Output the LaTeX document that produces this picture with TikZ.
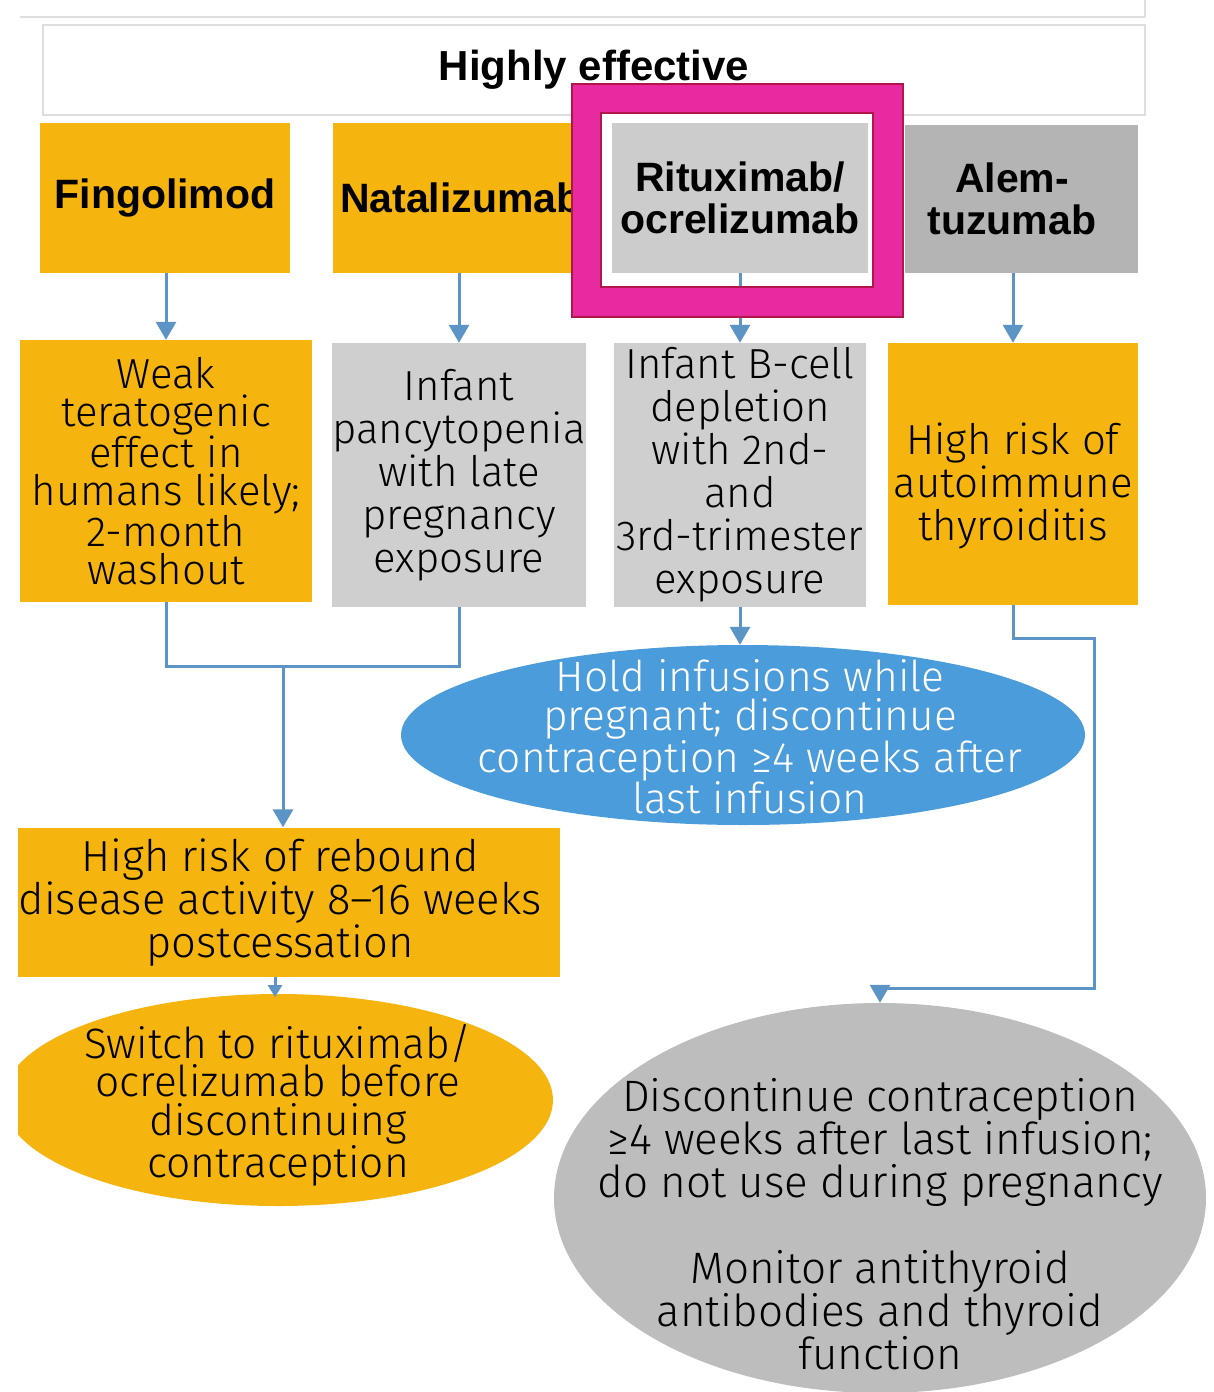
\documentclass[tikz,border=0pt]{standalone}
\usepackage{fontspec}
\setmainfont{Fira Sans Light}
\newfontfamily\headfont{Liberation Sans}
\usetikzlibrary{arrows.meta,shapes.geometric}

\definecolor{boxorange}{RGB}{246,180,14}
\definecolor{boxgray}{RGB}{207,207,207}
\definecolor{ritgray}{RGB}{204,204,204}
\definecolor{alemgray}{RGB}{180,180,180}
\definecolor{holdblue}{RGB}{74,156,218}
\definecolor{discgray}{RGB}{189,189,189}
\definecolor{linkblue}{RGB}{92,148,198}
\definecolor{framegray}{RGB}{222,222,222}
\definecolor{hilite}{RGB}{231,42,160}
\definecolor{hiliteedge}{RGB}{176,22,74}

\begin{document}
\begin{tikzpicture}[x=1pt,y=-1pt,
  every node/.style={inner sep=0pt, align=center},
  body/.style={font=\fontsize{42}{43}\selectfont},
  tightbody/.style={font=\fontsize{42}{38}\selectfont},
  ovalbody/.style={font=\fontsize{42.5}{38.5}\selectfont},
  bigbody/.style={font=\fontsize{44}{43}\selectfont},
  title/.style={font=\headfont\bfseries\fontsize{41}{42}\selectfont},
  obox/.style={rectangle, fill=boxorange},
  gbox/.style={rectangle, fill=boxgray},
  link/.style={draw=linkblue, line width=3pt},
  arr/.style={link, -{Triangle[length=18pt,width=20pt]}},
  smallarr/.style={link, -{Triangle[length=12pt,width=14pt]}},
]
\useasboundingbox[fill=white] (0,0) rectangle (1213,1392);

% frame lines above the header
\draw[framegray, line width=2pt] (20,17) -- (1145,17);
\draw[framegray, line width=1.5pt] (1145,0) -- (1145,17);

% header
\node[draw=framegray, line width=1.5pt, minimum width=1102, minimum height=90,
      font=\headfont\bfseries\fontsize{42}{42}\selectfont] (head) at (594,70) {Highly effective};

% first row: drugs
\node[obox, title, minimum width=250, minimum height=150] (fingo) at (165,198) {Fingolimod};
\node[obox, title, minimum width=266, minimum height=150, text width=252, align=left] (natal) at (466,198) {Natalizumab};
\fill[white] (601,113) rectangle (873,287);
\node[gbox, fill=ritgray, title, minimum width=256, minimum height=150] (ritux) at (740,198) {Rituximab/\\ocrelizumab};
\node[gbox, fill=alemgray, minimum width=233, minimum height=148] (alem) at (1021,199) {};
\node[title] (alemtxt) at (1012,199) {Alem-\\tuzumab};

% second row: risks
\node[obox, tightbody, minimum width=292, minimum height=262] (weak) at (166,471)
  {Weak\\teratogenic\\effect in\\humans likely;\\2-month\\washout};
\node[gbox, body, minimum width=252, minimum height=264] (pan) at (459,475)
  {Infant\\pancytopenia\\with late\\pregnancy\\exposure};
\node[gbox, body, minimum width=252, minimum height=264] (bcell) at (740,475)
  {Infant B-cell\\depletion\\with 2nd-\\and\\3rd-trimester\\exposure};
\node[obox, minimum width=250, minimum height=262] (thy) at (1013,474) {};
\node[body] (thytxt) at (1013,486) {High risk of\\autoimmune\\thyroiditis};

% recommendations
\node[ellipse, fill=holdblue, minimum width=684, minimum height=180] (hold) at (743,735) {};
\node[ovalbody, text=white] (holdtxt) at (750,737)
  {Hold infusions while\\pregnant; discontinue\\contraception ≥4 weeks after\\last infusion};

\node[obox, minimum width=542, minimum height=149] (rebound) at (289,902) {};
\node[font=\fontsize{43.5}{43}\selectfont] (reboundtxt) at (280,903)
  {High risk of rebound\\disease activity 8–16 weeks\\postcessation};

\begin{scope}
  \clip (18,0) rectangle (1213,1392);
  \node[ellipse, fill=boxorange, minimum width=550, minimum height=212] (switch) at (278,1100) {};
\end{scope}
\node[ovalbody] (switchtxt) at (278,1105)
  {Switch to rituximab/\\ocrelizumab before\\discontinuing\\contraception};

\node[ellipse, fill=discgray, minimum width=652, minimum height=390] (disc) at (880,1198) {};
\node[bigbody] (disctxt) at (880,1224)
  {Discontinue contraception\\≥4 weeks after last infusion;\\do not use during pregnancy\\[43pt]Monitor antithyroid\\antibodies and thyroid\\function};

% connectors
\coordinate (j1) at (283,666);
\coordinate (c1) at (1094,638);
\coordinate (c2) at (880,988);
\draw[arr] (weak.north |- fingo.south) -- (weak.north);
\draw[arr] (pan.north |- natal.south) -- (pan.north);
\draw[arr] (ritux.south) -- (bcell.north);
\draw[arr] (thy.north |- alem.south) -- (thy.north);
\draw[link] (weak.south) |- (j1) -| (pan.south);
\draw[arr] (j1) -- (j1 |- rebound.north);
\draw[arr] (bcell.south) -- (bcell.south |- hold.north);
\draw[smallarr] (275,977) -- (275,997);
\draw[arr] (thy.south) |- (c1) |- (c2) -- (disc.north);

% highlight frame around the rituximab box
\fill[hilite, even odd rule] (572,84) rectangle (903,317) (601,113) rectangle (873,287);
\draw[hiliteedge, line width=1.2pt] (572,84) rectangle (903,317) (601,113) rectangle (873,287);
\end{tikzpicture}
\end{document}
